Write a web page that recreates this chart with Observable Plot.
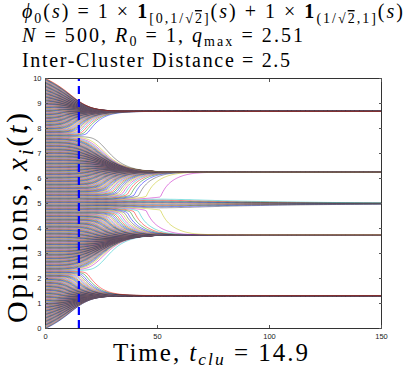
<!DOCTYPE html>
<html>
<head>
<meta charset="utf-8">
<script src="https://cdn.jsdelivr.net/npm/d3@7"></script>
<script src="https://cdn.jsdelivr.net/npm/@observablehq/plot@0.6"></script>
<style>
  html, body { margin: 0; padding: 0; background: #fff; }
  #chart { position: relative; width: 407px; height: 369px; }
</style>
</head>
<body>
<div id="chart"></div>
<script>
// ---- Values (title, axes) ----
const agentCount = 500;               // N = 500
const interactionRadius = 1;          // R0 = 1
const phiBreaks = [0, 1 / Math.SQRT2, 1];  // support pieces of phi_0
const phiWeights = [1, 1];            // 1 x 1_[0,1/sqrt2] + 1 x 1_(1/sqrt2,1]
const opinionRange = [0, 10];         // initial opinions spread over the y range
const timeDomain = [0, 150];
const rateScale = 0.86;               // pace matched to the picture's cluster formation times
const tClu = 14.9;                    // dashed marker
const xTicks = [0, 50, 100, 150];
const yTicks = [0, 1, 2, 3, 4, 5, 6, 7, 8, 9, 10];
const lineColors = ["#0000ff", "#008000", "#ff0000", "#00bfbf", "#bf00bf", "#bfbf00", "#404040"];

// ---- Trajectories of the model stated in the title ----
function phi(r) {
  if (r >= phiBreaks[0] && r <= phiBreaks[1]) return phiWeights[0];
  if (r > phiBreaks[1] && r <= phiBreaks[2]) return phiWeights[1];
  return 0;
}
const dt = 0.05;
let x = d3.range(agentCount).map(i => opinionRange[0] + (opinionRange[1] - opinionRange[0]) * i / (agentCount - 1));
const rows = [];
function record(t) { for (let i = 0; i < agentCount; i++) rows.push({id: i, t, x: x[i]}); }
record(0);
const steps = Math.round(timeDomain[1] / dt);
for (let s = 1; s <= steps; s++) {
  // opinions stay ordered: neighbours within R0 form a contiguous window (phi is 1 on all of it)
  const S = new Float64Array(agentCount + 1);
  for (let i = 0; i < agentCount; i++) S[i + 1] = S[i] + x[i];
  const v = new Float64Array(agentCount);
  let lo = 0, hi = 0;
  for (let i = 0; i < agentCount; i++) {
    while (x[i] - x[lo] > interactionRadius) lo++;
    if (hi < i) hi = i;
    while (hi + 1 < agentCount && x[hi + 1] - x[i] <= interactionRadius) hi++;
    const w = phi(0);
    v[i] = rateScale * w * ((S[hi + 1] - S[lo]) - (hi - lo + 1) * x[i]) / agentCount;
  }
  for (let i = 0; i < agentCount; i++) x[i] += dt * v[i];
  const t = +(s * dt).toFixed(4);
  if ((t <= 90 && s % 10 === 0) || s % 40 === 0) record(t);
}

const chart = Plot.plot({
  width: 407,
  height: 369,
  marginTop: 78,
  marginLeft: 45,
  marginRight: 26,
  marginBottom: 41,
  style: {fontFamily: "'Liberation Sans', Arial, sans-serif", fontSize: "7.5px", color: "#222", background: "#fff"},
  x: {domain: timeDomain},
  y: {domain: opinionRange},
  color: {type: "identity"},
  marks: [
    Plot.line(rows, {x: "t", y: "x", z: "id", stroke: d => lineColors[d.id % lineColors.length], strokeWidth: 0.5, curve: "linear"}),
    Plot.ruleX([tClu], {y1: opinionRange[0], y2: opinionRange[1], stroke: "#0000ff", strokeWidth: 2.2, strokeDasharray: "8,5"}),
    Plot.frame({stroke: "#333", strokeWidth: 1}),
    Plot.axisX({ticks: xTicks, anchor: "bottom", tickSize: -3, tickPadding: 8, label: null, stroke: "#555"}),
    Plot.axisX({ticks: xTicks, anchor: "top", tickSize: -3, tickFormat: () => "", label: null, stroke: "#555"}),
    Plot.axisY({ticks: yTicks, anchor: "left", tickSize: -3, tickPadding: 7, label: null, stroke: "#555"}),
    Plot.axisY({ticks: yTicks, anchor: "right", tickSize: -3, tickFormat: () => "", label: null, stroke: "#555"})
  ]
});
document.getElementById("chart").appendChild(chart);

// ---- Math-style text (title and axis labels) ----
const svg = d3.select(chart);
function mathText(parent, segs, attrs, subShift) {
  const t = parent.append("text").attr("text-anchor", "start");
  Object.entries(attrs).forEach(([k, v]) => t.attr(k, v));
  let cur = 0;
  for (const s of segs) {
    const shift = s.sub ? subShift : 0;
    const ts = t.append("tspan").text(s.t);
    if (shift !== cur) { ts.attr("dy", shift - cur); cur = shift; }
    if (s.it) ts.attr("font-style", "italic");
    if (s.b) ts.attr("font-weight", "bold");
    if (s.sub) ts.attr("font-size", "0.7em");
    if (s.ov) ts.attr("text-decoration", "overline");
  }
  return t;
}
const serif = "'Liberation Serif', 'Times New Roman', 'DejaVu Serif', serif";
const g = svg.append("g").attr("fill", "#000").style("font-family", serif);
mathText(g, [
  {t: "ϕ", it: true}, {t: "0", sub: true}, {t: "("}, {t: "s", it: true}, {t: ") = 1 × "},
  {t: "1", b: true}, {t: "[0,1/√", sub: true}, {t: "2", sub: true, ov: true}, {t: "]", sub: true},
  {t: "("}, {t: "s", it: true}, {t: ") + 1 × "},
  {t: "1", b: true}, {t: "(1/√", sub: true}, {t: "2", sub: true, ov: true}, {t: ",1]", sub: true},
  {t: "("}, {t: "s", it: true}, {t: ")"}
], {x: 22, y: 18, "font-size": 20, textLength: 381, lengthAdjust: "spacing"}, 5);
mathText(g, [
  {t: "N", it: true}, {t: " = 500, "}, {t: "R", it: true}, {t: "0", sub: true}, {t: " = 1, "},
  {t: "q", it: true}, {t: "max", sub: true}, {t: " = 2.51"}
], {x: 22, y: 42, "font-size": 20, textLength: 281, lengthAdjust: "spacing"}, 4);
mathText(g, [{t: "Inter-Cluster Distance = 2.5"}], {x: 22, y: 67, "font-size": 20, textLength: 268, lengthAdjust: "spacing"}, 5);

mathText(g, [{t: "Time, "}, {t: "t", it: true}, {t: "clu", it: true, sub: true}, {t: " = 14.9"}],
  {x: 113, y: 361, "font-size": 25, textLength: 195, lengthAdjust: "spacing"}, 4);
mathText(g, [{t: "Opinions, "}, {t: "x", it: true}, {t: "i", it: true, sub: true}, {t: "("}, {t: "t", it: true}, {t: ")"}],
  {x: 0, y: 0, "font-size": 30, textLength: 210, lengthAdjust: "spacing", transform: "translate(27,323) rotate(-90)"}, 6);
</script>
</body>
</html>
